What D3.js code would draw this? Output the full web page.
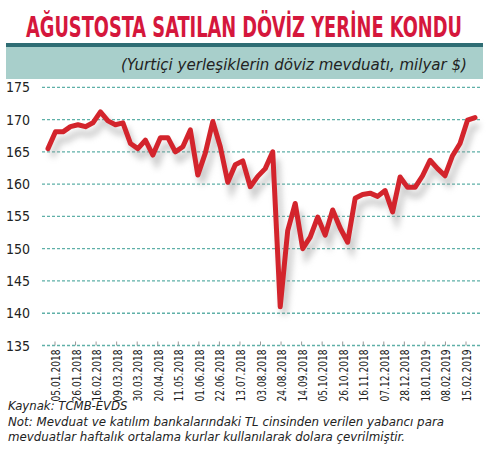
<!DOCTYPE html><html><head><meta charset="utf-8">
<script src="https://cdn.jsdelivr.net/npm/d3@7"></script>
<style>body{margin:0;background:#fff}text{font-family:"DejaVu Sans Condensed","DejaVu Sans",sans-serif}</style></head><body>
<svg id="c" width="489" height="467"></svg>
<script>
const values=[165.5,168.1,168.1,168.9,169.2,168.9,169.5,171.2,169.8,169.2,169.5,166.3,165.5,166.8,164.5,167.2,167.2,165.0,165.8,168.4,161.4,164.8,169.7,165.8,160.3,163.0,
163.6,159.6,161.2,162.4,165.0,141.0,152.8,157.0,150.0,151.8,154.9,152.1,156.0,153.2,151.0,157.8,158.4,158.6,158.1,159.0,155.7,161.1,159.5,159.5,161.3,163.7,162.4,161.3,164.4,166.3,169.9,170.3];
const tickLabels=["05.01.2018","26.01.2018","16.02.2018","09.03.2018","30.03.2018","20.04.2018","11.05.2018","01.06.2018","22.06.2018","13.07.2018","03.08.2018","24.08.2018","14.09.2018","05.10.2018","26.10.2018","16.11.2018","07.12.2018","28.12.2018","18.01.2019","08.02.2019","15.02.2019"];
const yTicks=[135,140,145,150,155,160,165,170,175];
const svg=d3.select("#c");
svg.append("text").attr("x",244).attr("y",37).attr("text-anchor","middle").attr("fill","#d5173c")
 .attr("font-size",29).attr("font-weight","bold").attr("textLength",436).attr("lengthAdjust","spacingAndGlyphs").text("AĞUSTOSTA SATILAN DÖVİZ YERİNE KONDU");
svg.append("rect").attr("x",6).attr("y",43).attr("width",477).attr("height",4).attr("fill","#2f6d74");
svg.append("rect").attr("x",6).attr("y",47).attr("width",477).attr("height",32).attr("fill","#a8cfcb");
svg.append("text").attr("x",467).attr("y",70).attr("text-anchor","end").attr("font-size",16).attr("font-style","italic").attr("fill","#222")
 .attr("font-family","Open Sans").attr("textLength",346).attr("lengthAdjust","spacingAndGlyphs").text("(Yurtiçi yerleşiklerin döviz mevduatı, milyar $)");
const y=d3.scaleLinear().domain([135,175]).range([345.5,87.3]);
const x=d3.scaleLinear().domain([0,values.length-1]).range([48,475]);
const xt=d3.scalePoint().domain(tickLabels).range([55,466]);
const g=svg.append("g");
yTicks.forEach(v=>{
 g.append("line").attr("x1",42).attr("x2",481).attr("y1",y(v)).attr("y2",y(v)).attr("stroke","#5fb0a8").attr("stroke-width",1.3).attr("stroke-dasharray","3,2");
 g.append("text").attr("x",30).attr("y",y(v)+5).attr("text-anchor","end").attr("font-size",14).attr("fill","#222").text(v);
});
tickLabels.forEach(t=>{
 g.append("line").attr("x1",xt(t)).attr("x2",xt(t)).attr("y1",y(135)-4).attr("y2",y(135)).attr("stroke","#999");
 g.append("text").attr("transform",`translate(${xt(t)+5},${y(135)+4}) rotate(-90)`).attr("text-anchor","end").attr("font-size",13).attr("fill","#222")
  .attr("textLength",52).attr("lengthAdjust","spacingAndGlyphs").text(t);
});
const defs=svg.append("defs");
defs.append("filter").attr("id","sh").attr("x","-10%").attr("y","-10%").attr("width","120%").attr("height","130%").append("feGaussianBlur").attr("stdDeviation",3);
const line=d3.line().x((d,i)=>x(i)).y(d=>y(d));
g.append("path").datum(values).attr("d",line).attr("fill","none").attr("stroke","#999").attr("stroke-width",6).attr("opacity",0.5).attr("filter","url(#sh)").attr("transform","translate(4,8)");
g.append("path").datum(values).attr("d",line).attr("fill","none").attr("stroke","#d3242c").attr("stroke-width",5).attr("stroke-linejoin","round").attr("stroke-linecap","round");
const foot=[["Kaynak: TCMB-EVDS",410,null],["Not: Mevduat ve katılım bankalarındaki TL cinsinden verilen yabancı para",426,436],["mevduatlar haftalık ortalama kurlar kullanılarak dolara çevrilmiştir.",441,397]];
foot.forEach(([t,yy,len])=>{const e=svg.append("text").attr("x",8).attr("y",yy).attr("font-size",13).attr("font-style","italic").attr("font-family","Open Sans").attr("fill","#222").text(t);
 if(len)e.attr("textLength",len).attr("lengthAdjust","spacingAndGlyphs");});
</script></body></html>
